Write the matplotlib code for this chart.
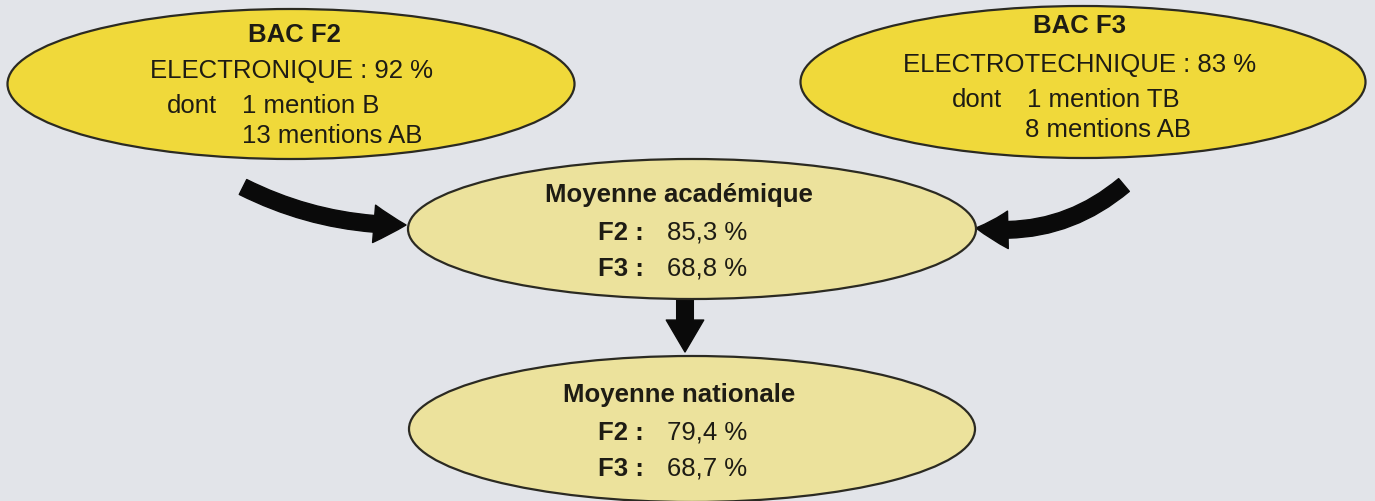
import matplotlib
matplotlib.use("Agg")
import matplotlib.pyplot as plt
from matplotlib.patches import Ellipse, FancyArrowPatch

plt.rcParams['font.family'] = ['Liberation Sans', 'DejaVu Sans']

# ---- data ----
bac_titles = ["BAC F2", "BAC F3"]
specialities = ["ELECTRONIQUE", "ELECTROTECHNIQUE"]
success_rates = [92, 83]
mentions_f2_counts = [1, 13]
mentions_f2_labels = ["B", "AB"]
mentions_f3_counts = [1, 8]
mentions_f3_labels = ["TB", "AB"]
average_titles = ["Moyenne académique", "Moyenne nationale"]
series_names = ["F2", "F3"]
academic_rates = [85.3, 68.8]
national_rates = [79.4, 68.7]


def pct(v):
    return f"{v:.1f}".replace('.', ',') + " %"


def mention(c, lab):
    return f"{c} mention{'s' if c > 1 else ''} {lab}"


W, H = 1375, 502
fig = plt.figure(figsize=(W / 100, H / 100), dpi=100)
ax = fig.add_axes([0, 0, 1, 1])
ax.set_xlim(0, W)
ax.set_ylim(H, 0)
ax.axis('off')
BG = '#e2e4e9'
fig.patch.set_facecolor(BG)

TOP = '#f0d93a'
LOW = '#ece29c'
EDGE = '#2b2a22'
TXT = '#1e1c14'
FS = 18.5

# ellipses
ells = [((291, 85), 567, 150, TOP), ((1083, 83), 565, 152, TOP),
        ((692, 230), 568, 140, LOW), ((692, 430), 566, 146, LOW)]
for (c, w, h, col) in ells:
    ax.add_patch(Ellipse(c, w, h, facecolor=col, edgecolor=EDGE, lw=1.6, zorder=2))


# arrows
def arrow(p0, p1, rad):
    a = FancyArrowPatch(p0, p1, connectionstyle=f"arc3,rad={rad}",
                        arrowstyle="simple,tail_width=12,head_width=27,head_length=23",
                        mutation_scale=1, shrinkA=0, shrinkB=0,
                        facecolor='#0a0a0a', edgecolor='#0a0a0a', zorder=1.5)
    ax.add_patch(a)


arrow((243, 188), (406, 226), 0.12)
arrow((1124, 186), (976, 229), -0.22)
arrow((685, 296), (685, 353), 0)

# top-left text
ax.text(294, 42, bac_titles[0], ha='center', va='baseline', fontsize=FS, fontweight='bold', color=TXT, zorder=4)
ax.text(292, 78, f"{specialities[0]} : {success_rates[0]} %", ha='center', va='baseline', fontsize=FS, color=TXT, zorder=4)
ax.text(167, 113, "dont", ha='left', va='baseline', fontsize=FS, color=TXT, zorder=4)
ax.text(242, 113, mention(mentions_f2_counts[0], mentions_f2_labels[0]), ha='left', va='baseline', fontsize=FS, color=TXT, zorder=4)
ax.text(242, 143, mention(mentions_f2_counts[1], mentions_f2_labels[1]), ha='left', va='baseline', fontsize=FS, color=TXT, zorder=4)

# top-right text
ax.text(1080, 33, bac_titles[1], ha='center', va='baseline', fontsize=FS, fontweight='bold', color=TXT, zorder=4)
ax.text(1080, 72, f"{specialities[1]} : {success_rates[1]} %", ha='center', va='baseline', fontsize=FS, color=TXT, zorder=4)
ax.text(952, 107, "dont", ha='left', va='baseline', fontsize=FS, color=TXT, zorder=4)
ax.text(1027, 107, mention(mentions_f3_counts[0], mentions_f3_labels[0]), ha='left', va='baseline', fontsize=FS, color=TXT, zorder=4)
ax.text(1025, 137, mention(mentions_f3_counts[1], mentions_f3_labels[1]), ha='left', va='baseline', fontsize=FS, color=TXT, zorder=4)

# averages
for title, rates, y0 in [(average_titles[0], academic_rates, 202), (average_titles[1], national_rates, 402)]:
    ax.text(679, y0, title, ha='center', va='baseline', fontsize=FS, fontweight='bold', color=TXT, zorder=4)
    for i, (s, v) in enumerate(zip(series_names, rates)):
        y = y0 + 38 + 36 * i
        ax.text(598, y, f"{s} :", ha='left', va='baseline', fontsize=FS, fontweight='bold', color=TXT, zorder=4)
        ax.text(667, y, pct(v), ha='left', va='baseline', fontsize=FS, color=TXT, zorder=4)

fig.savefig("out.png", dpi=100, facecolor=fig.get_facecolor())
